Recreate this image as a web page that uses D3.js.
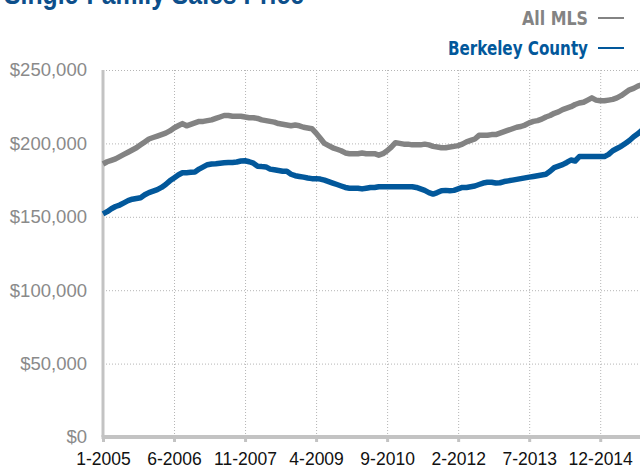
<!DOCTYPE html>
<html>
<head>
<meta charset="utf-8">
<script src="https://cdnjs.cloudflare.com/ajax/libs/d3/7.8.5/d3.min.js"></script>
<style>
  body { margin: 0; background: #fff; }
  svg { display: block; }
</style>
</head>
<body>
<svg></svg>
<script>
const svg = d3.select('svg')
    .attr('width', 640)
    .attr('height', 470)

// monthly values, 1-2005 .. 10-2015 (thousands of dollars)
const allMls = [
    186, 187.5, 188.5, 189.5, 191, 192.5, 194, 195.5, 197, 199,
    201, 203, 204, 205, 206, 207, 208.5, 210.5, 212, 213.5,
    212, 213, 214, 215, 215, 215.5, 216, 217, 218, 219,
    219, 218.5, 218.5, 218.5, 218, 217.5, 217.5, 217, 216, 215.5,
    215, 214.5, 213.5, 213, 212.5, 212, 212.5, 212, 211, 210.5,
    210, 207, 203.5, 200, 198.5, 197, 196, 195, 193.5, 193,
    193, 193, 193.5, 193, 193, 193, 192, 193, 195, 197.5,
    200.5, 200, 199.5, 199.5, 199, 199, 199, 199.5, 199, 198,
    197.5, 197, 197, 197.5, 198, 198.5, 199.5, 201, 202, 203,
    205.5, 205.5, 205.5, 206, 206, 207, 208, 209, 210, 211,
    211.5, 212.5, 214, 215, 215.5, 216.5, 218, 219, 220.5, 221.5,
    223, 224, 225, 226.5, 227.5, 228, 229.5, 231, 229.5, 229,
    229, 229.5, 230, 231, 232.5, 234.5, 236.5, 237.5, 239, 240
];
const berkeley = [
    152, 153.5, 155.5, 157, 158, 159.5, 161, 162, 162.5, 163,
    165, 166.5, 167.5, 168.5, 170, 172, 174.5, 176.5, 178.5, 180,
    180, 180.3, 180.5, 182.5, 184, 185.5, 186, 186.2, 186.5, 186.8,
    187, 187, 187.3, 188, 188.2, 187.5, 186.5, 184.5, 184.2, 184,
    182.5, 182, 181.5, 181, 181, 179, 178, 177.5, 177, 176.4,
    176, 176, 175.7, 175, 174, 173, 172, 171, 170, 169.5,
    169.5, 169.5, 169, 169.5, 170, 170, 170.5, 170.5, 170.5, 170.5,
    170.5, 170.5, 170.5, 170.5, 170.5, 170, 169, 168, 166.5, 165.5,
    166.5, 167.8, 168, 167.8, 168, 169, 170, 170, 170.5, 171,
    172, 173, 173.5, 173.5, 173, 173.2, 174, 174.5, 175, 175.5,
    176, 176.5, 177, 177.5, 178, 178.5, 179, 181, 183.5, 184.5,
    185.5, 187, 188.7, 188, 191, 191, 191, 191, 191, 191,
    191, 192.5, 195, 196.5, 198, 200, 202, 204.5, 206.5, 209
];
const xTickLabels = ['1-2005', '6-2006', '11-2007', '4-2009', '9-2010', '2-2012', '7-2013', '12-2014'];
const yTicks = [0, 50000, 100000, 150000, 200000, 250000];
const seriesNames = ['All MLS', 'Berkeley County'];
const seriesColors = ['#838383', '#02589b'];

const plotLeft = 103, plotRight = 642, plotTop = 70, plotBottom = 437;

const x = d3.scaleLinear()
    .domain([0, allMls.length - 1])
    .range([plotLeft, plotRight]);

const y = d3.scaleLinear()
    .domain([0, 250000])
    .range([plotBottom, plotTop]);

const fmt = d3.format('$,');

// title (cut off at the top, as in the original)
svg.append('text')
    .attr('x', 4)
    .attr('y', 4)
    .attr('textLength', 300)
    .attr('lengthAdjust', 'spacingAndGlyphs')
    .text('Single-Family Sales Price')
    .attr('fill', '#0d4f8b')
    .style('font-family', 'Liberation Sans, Arial, sans-serif')
    .style('font-size', '30px')
    .style('font-weight', 'bold');

// horizontal grid
svg.append('g')
    .attr('transform', `translate(${plotLeft},0)`)
    .call(d3.axisLeft(y).tickValues(yTicks.slice(1)).tickSize(-(640 - plotLeft)).tickFormat(''))
    .call(g => g.select('.domain').remove())
    .call(g => g.selectAll('line')
        .attr('stroke', '#b5b5b5')
        .attr('stroke-dasharray', '1,2'));

// vertical grid
const xTickIdx = xTickLabels.map((d, i) => i * 17);
svg.append('g')
    .attr('transform', `translate(0,${plotBottom})`)
    .call(d3.axisBottom(x).tickValues(xTickIdx.slice(1)).tickSize(-(plotBottom - plotTop)).tickFormat(''))
    .call(g => g.select('.domain').remove())
    .call(g => g.selectAll('line')
        .attr('stroke', '#b5b5b5')
        .attr('stroke-dasharray', '1,2'));

// y labels
svg.append('g')
    .attr('transform', `translate(${plotLeft},0)`)
    .call(d3.axisLeft(y).tickValues(yTicks).tickSize(0).tickPadding(16).tickFormat(fmt))
    .call(g => g.select('.domain').remove())
    .call(g => g.selectAll('text')
        .attr('fill', '#8a8a8a')
        .style('font-family', 'Liberation Sans, Arial, sans-serif')
        .style('font-size', '18.5px'));

// x axis
svg.append('g')
    .attr('transform', `translate(0,${plotBottom})`)
    .call(d3.axisBottom(x).tickValues(xTickIdx).tickSize(5).tickPadding(11).tickFormat((d, i) => xTickLabels[i]))
    .call(g => g.select('.domain').remove())
    .call(g => g.selectAll('line').attr('stroke', '#c3c3c3').attr('stroke-width', 3))
    .call(g => g.selectAll('text')
        .attr('fill', '#111')
        .style('font-family', 'Liberation Sans, Arial, sans-serif')
        .style('font-size', '17.5px'));

svg.append('line')
    .attr('x1', plotLeft - 1.5).attr('x2', 640)
    .attr('y1', plotBottom).attr('y2', plotBottom)
    .attr('stroke', '#c3c3c3')
    .attr('stroke-width', 4);

svg.append('line')
    .attr('x1', plotLeft).attr('x2', plotLeft)
    .attr('y1', plotTop).attr('y2', plotBottom)
    .attr('stroke', '#c3c3c3')
    .attr('stroke-width', 3);

// lines
const line = d3.line()
    .x((d, i) => x(i))
    .y(d => y(d * 1000));

[allMls, berkeley].forEach((s, k) => {
    svg.append('path')
        .datum(s)
        .attr('d', line)
        .attr('fill', 'none')
        .attr('stroke', seriesColors[k])
        .attr('stroke-width', 5.5)
        .attr('stroke-linejoin', 'round');
});

// legend
const legendWidths = [66, 140];
seriesNames.forEach((name, i) => {
    svg.append('text')
        .attr('x', 588)
        .attr('y', 25 + i * 30)
        .attr('text-anchor', 'end')
        .attr('textLength', legendWidths[i])
        .attr('lengthAdjust', 'spacingAndGlyphs')
        .text(name)
        .attr('fill', seriesColors[i])
        .style('font-family', 'Liberation Sans Narrow, DejaVu Sans Condensed, sans-serif')
        .style('font-size', '20px')
        .style('font-weight', 'bold');
    svg.append('line')
        .attr('x1', 598).attr('x2', 624)
        .attr('y1', 18 + i * 30).attr('y2', 18 + i * 30)
        .attr('stroke', seriesColors[i])
        .attr('stroke-width', 2);
});
</script>
</body>
</html>
